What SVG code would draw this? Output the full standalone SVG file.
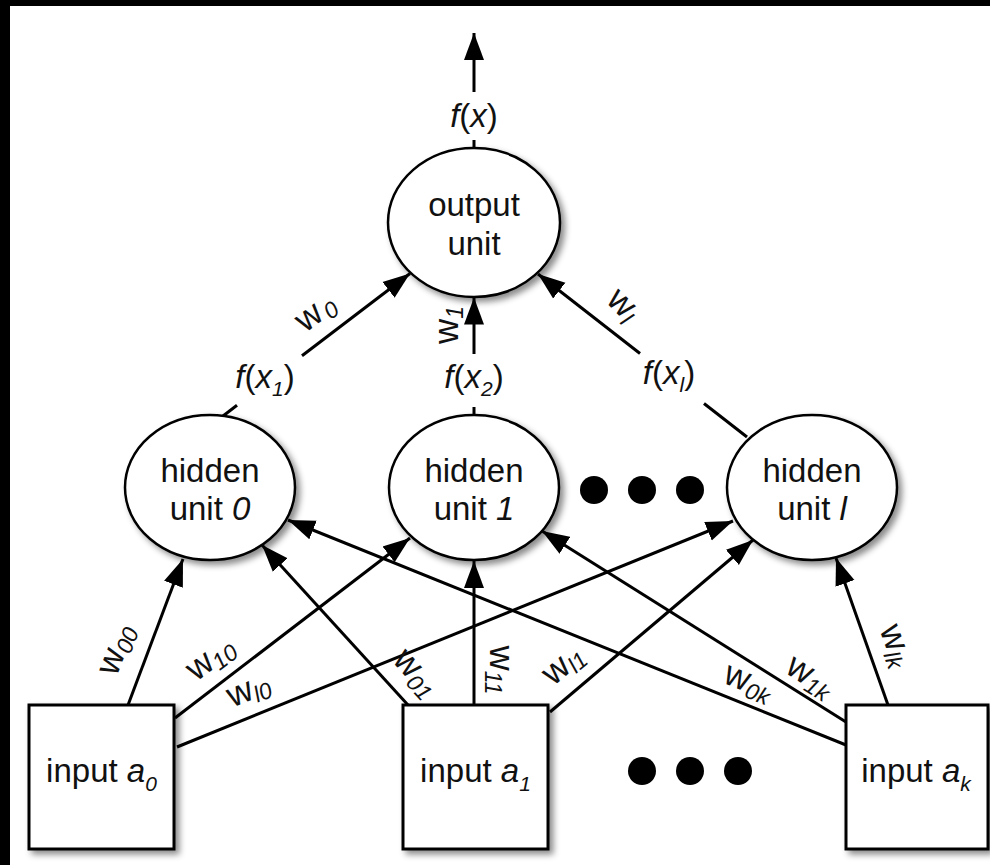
<svg xmlns="http://www.w3.org/2000/svg" width="990" height="865" viewBox="0 0 990 865">
<defs>
<style>
text{font-family:"Liberation Sans",Arial,Helvetica,sans-serif;font-size:33px;fill:#111;text-anchor:middle}
.i{font-style:italic}
.sub{font-size:21px;font-style:italic}
.el{font-size:35px}
.el .sub{font-size:23px}
.node{fill:#fff;stroke:#000;stroke-width:2.5;filter:url(#sh)}
.box{fill:#fff;stroke:#000;stroke-width:3;filter:url(#sh)}
.edge{stroke:#000;stroke-width:3;fill:none}
.arr{marker-end:url(#ah)}
.dot{fill:#000}
</style>
<marker id="ah" markerUnits="userSpaceOnUse" markerWidth="28" markerHeight="22" refX="27" refY="11" orient="auto" viewBox="0 0 28 22">
<path d="M0,1 L27,11 L0,21 z" fill="#000"/>
</marker>
<filter id="sh" x="-20%" y="-20%" width="150%" height="150%">
<feDropShadow dx="4" dy="4" stdDeviation="3" flood-color="#000" flood-opacity="0.45"/>
</filter>
</defs>
<rect x="0" y="0" width="990" height="865" fill="#fff"/>
<rect x="0" y="0" width="10" height="865" fill="#000"/>
<rect x="0" y="0" width="990" height="6" fill="#000"/>

<g id="connectors">
<line class="edge" x1="474" y1="148" x2="474" y2="140"/>
<line class="edge arr" x1="474" y1="92" x2="474" y2="33"/>
<line class="edge" x1="223" y1="416" x2="237" y2="405.3"/>
<line class="edge arr" x1="302" y1="355.8" x2="410" y2="273.5"/>
<line class="edge" x1="474" y1="415" x2="474" y2="407"/>
<line class="edge arr" x1="474" y1="354" x2="474" y2="297.5"/>
<line class="edge" x1="747" y1="437" x2="704" y2="403.5"/>
<line class="edge arr" x1="640" y1="353.5" x2="538" y2="274"/>
<line class="edge arr" x1="128" y1="705" x2="183" y2="559"/>
<line class="edge arr" x1="175" y1="718" x2="410" y2="538"/>
<line class="edge arr" x1="177" y1="747" x2="733" y2="521"/>
<line class="edge arr" x1="408" y1="705" x2="262" y2="545"/>
<line class="edge arr" x1="474" y1="705" x2="474" y2="561"/>
<line class="edge arr" x1="550" y1="712" x2="753" y2="540"/>
<line class="edge arr" x1="846" y1="745" x2="288" y2="520"/>
<line class="edge arr" x1="846" y1="722" x2="542" y2="531"/>
<line class="edge arr" x1="888" y1="705" x2="836" y2="558"/>
</g>

<g id="edge-labels">
<text x="474" y="127"><tspan class="i">f</tspan>(<tspan class="i">x</tspan>)</text>
<text x="265" y="388"><tspan class="i">f</tspan>(<tspan class="i">x</tspan><tspan class="sub" dy="8">1</tspan><tspan dy="-8">)</tspan></text>
<text x="474" y="388"><tspan class="i">f</tspan>(<tspan class="i">x</tspan><tspan class="sub" dy="8">2</tspan><tspan dy="-8">)</tspan></text>
<text x="669" y="384"><tspan class="i">f</tspan>(<tspan class="i">x</tspan><tspan class="sub" dy="8">l</tspan><tspan dy="-8">)</tspan></text>
<text class="el" transform="translate(318,316) rotate(-37)" y="6">w<tspan class="sub" dx="3" dy="5">0</tspan></text>
<text class="el" transform="translate(452,325) rotate(-90)" y="6">w<tspan class="sub" dy="5">1</tspan></text>
<text class="el" transform="translate(620,308) rotate(45)" y="6">w<tspan class="sub" dy="5">l</tspan></text>
<text class="el" transform="translate(120,651) rotate(-69)" y="6">w<tspan class="sub" dy="5">00</tspan></text>
<text class="el" transform="translate(213,662) rotate(-37)" y="6">w<tspan class="sub" dy="5">10</tspan></text>
<text class="el" transform="translate(250,694) rotate(-22)" y="6">w<tspan class="sub" dy="5">l0</tspan></text>
<text class="el" transform="translate(413,676) rotate(48)" y="6">w<tspan class="sub" dy="5">01</tspan></text>
<text class="el" transform="translate(496,670) rotate(90)" y="6">w<tspan class="sub" dy="5">11</tspan></text>
<text class="el" transform="translate(566,668) rotate(-40)" y="6">w<tspan class="sub" dy="5">l1</tspan></text>
<text class="el" transform="translate(747,686) rotate(22)" y="6">w<tspan class="sub" dy="5">0k</tspan></text>
<text class="el" transform="translate(808,680) rotate(32)" y="6">w<tspan class="sub" dy="5">1k</tspan></text>
<text class="el" transform="translate(892,647) rotate(70)" y="6">w<tspan class="sub" dy="5">lk</tspan></text>
</g>

<g id="output">
<ellipse class="node" cx="474" cy="222.5" rx="86" ry="74.5"/>
<text x="474" y="216">output</text>
<text x="474" y="255">unit</text>
</g>

<g id="hidden0">
<ellipse class="node" cx="210" cy="487.5" rx="85" ry="72.5"/>
<text x="210" y="482">hidden</text>
<text x="210" y="520">unit <tspan class="i">0</tspan></text>
</g>
<g id="hidden1">
<ellipse class="node" cx="474" cy="487.5" rx="85" ry="72.5"/>
<text x="474" y="482">hidden</text>
<text x="474" y="520">unit <tspan class="i">1</tspan></text>
</g>
<g id="hiddenl">
<ellipse class="node" cx="812" cy="487.5" rx="85" ry="72.5"/>
<text x="812" y="482">hidden</text>
<text x="812" y="520">unit <tspan class="i">l</tspan></text>
</g>
<g id="hidden-dots">
<circle class="dot" cx="594" cy="490" r="14"/>
<circle class="dot" cx="642" cy="490" r="14"/>
<circle class="dot" cx="690" cy="490" r="14"/>
</g>

<g id="input0">
<rect class="box" x="29" y="705" width="145" height="144"/>
<text x="101.5" y="782">input <tspan class="i">a</tspan><tspan class="sub" dy="9">0</tspan></text>
</g>
<g id="input1">
<rect class="box" x="403" y="705" width="145" height="144"/>
<text x="475.5" y="782">input <tspan class="i">a</tspan><tspan class="sub" dy="9">1</tspan></text>
</g>
<g id="inputk">
<rect class="box" x="846" y="705" width="142" height="144"/>
<text x="916" y="782">input <tspan class="i">a</tspan><tspan class="sub" dy="9">k</tspan></text>
</g>
<g id="input-dots">
<circle class="dot" cx="642" cy="771" r="14"/>
<circle class="dot" cx="690" cy="771" r="14"/>
<circle class="dot" cx="738" cy="771" r="14"/>
</g>
</svg>
